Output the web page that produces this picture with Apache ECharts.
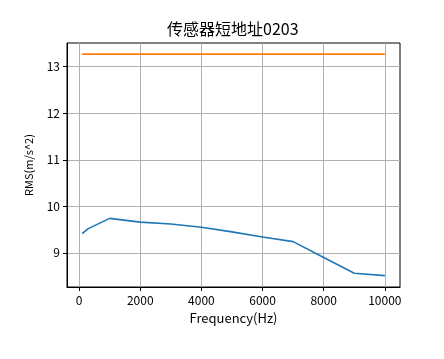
<!DOCTYPE html>
<html><head><meta charset="utf-8">
<script src="https://cdn.jsdelivr.net/npm/echarts@6/dist/echarts.min.js"></script>
<style>html,body{margin:0;padding:0;background:#fff}#c{width:444px;height:359px}</style>
</head><body><div id="c"></div>
<script>
const frequencies = [100, 300, 1000, 2000, 3000, 4000, 5000, 6000, 7000, 8000, 9000, 10000];
const rmsBlue = [9.41, 9.52, 9.74, 9.66, 9.62, 9.55, 9.45, 9.34, 9.24, 8.90, 8.56, 8.51];
const rmsOrange = [13.27, 13.27, 13.27, 13.27, 13.27, 13.27, 13.27, 13.27, 13.27, 13.27, 13.27, 13.27];
const xTicks = [0, 2000, 4000, 6000, 8000, 10000];
const yTicks = [9, 10, 11, 12, 13];
const titleText = '传感器短地址0203';
const xName = 'Frequency(Hz)';
const yName = 'RMS(m/s^2)';

const font = '"Noto Sans CJK SC", "DejaVu Sans", sans-serif';
const chart = echarts.init(document.getElementById('c'), null, {renderer: 'canvas'});
const pair = arr => frequencies.map((f, i) => [f, arr[i]]);
chart.setOption({
  animation: false,
  backgroundColor: '#fff',
  title: {text: titleText, left: 162, top: 16,
    textStyle: {fontFamily: font, fontSize: 16, fontWeight: 'normal', color: '#000'}},
  grid: {left: 67, right: 44, top: 43, bottom: 72, show: true, borderColor: '#000', borderWidth: 1, backgroundColor: 'transparent'},
  xAxis: {
    type: 'value', min: -395, max: 10495,
    name: xName, nameLocation: 'middle', nameGap: 25,
    nameTextStyle: {fontFamily: font, fontSize: 13, color: '#000'},
    axisLine: {show: true, onZero: false, lineStyle: {color: '#000', width: 1}},
    axisTick: {show: true, inside: false, length: 4, customValues: xTicks, lineStyle: {color: '#000'}},
    axisLabel: {customValues: xTicks, formatter: v => String(v), margin: 7, fontFamily: font, fontSize: 12, color: '#000'},
    splitLine: {show: true, lineStyle: {color: '#b0b0b0', width: 1}}
  },
  yAxis: {
    type: 'value', min: 8.265, max: 13.51,
    name: yName, nameLocation: 'middle', nameGap: 33, nameRotate: 90,
    nameTextStyle: {fontFamily: font, fontSize: 11, color: '#000'},
    axisLine: {show: true, onZero: false, lineStyle: {color: '#000', width: 1}},
    axisTick: {show: true, inside: false, length: 4, customValues: yTicks, lineStyle: {color: '#000'}},
    axisLabel: {customValues: yTicks, formatter: v => String(v), margin: 7, fontFamily: font, fontSize: 12, color: '#000'},
    splitLine: {show: true, lineStyle: {color: '#b0b0b0', width: 1}}
  },
  series: [
    {type: 'line', data: pair(rmsBlue), showSymbol: false, symbol: 'none',
      lineStyle: {color: '#1f77b4', width: 1.6}, itemStyle: {color: '#1f77b4'}},
    {type: 'line', data: pair(rmsOrange), showSymbol: false, symbol: 'none',
      lineStyle: {color: '#ff7f0e', width: 1.6}, itemStyle: {color: '#ff7f0e'}}
  ]
});
</script></body></html>
